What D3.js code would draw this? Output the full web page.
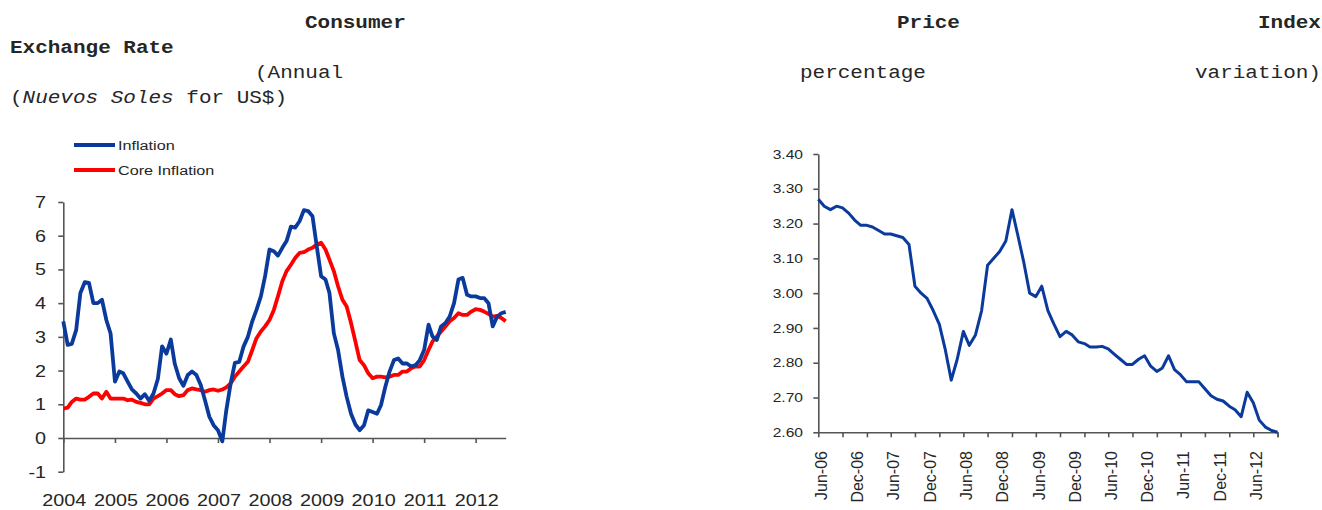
<!DOCTYPE html>
<html>
<head>
<meta charset="utf-8">
<script src="https://cdn.jsdelivr.net/npm/d3@7/dist/d3.min.js"></script>
<style>
  html, body { margin: 0; padding: 0; background: #fff; }
  svg { display: block; }
</style>
</head>
<body>
<svg id="chart" width="1322" height="510"></svg>
<script>
// ---------- DATA ----------
// Left panel: monthly annual % change, Jan-2004 .. Aug-2012
const inflationStart = [2004, 0];
const inflation = [
  3.46, 2.76, 2.79, 3.20, 4.30, 4.62, 4.60, 4.00, 4.00, 4.10, 3.50, 3.10,
  1.67, 1.97, 1.92, 1.67, 1.44, 1.32, 1.17, 1.30, 1.10, 1.32, 1.75, 2.72,
  2.50, 2.92, 2.20, 1.77, 1.55, 1.87, 1.97, 1.87, 1.57, 1.12, 0.63, 0.38,
  0.23, -0.10, 0.82, 1.62, 2.23, 2.26, 2.71, 3.00, 3.46, 3.80, 4.20, 4.80,
  5.59, 5.54, 5.41, 5.64, 5.84, 6.27, 6.24, 6.43, 6.76, 6.73, 6.58, 5.69,
  4.80, 4.70, 4.30, 3.11, 2.61, 1.82, 1.22, 0.72, 0.40, 0.23, 0.38, 0.82,
  0.77, 0.72, 0.97, 1.52, 1.97, 2.31, 2.36, 2.21, 2.21, 2.12, 2.16, 2.31,
  2.61, 3.36, 3.01, 2.91, 3.31, 3.41, 3.60, 4.00, 4.70, 4.75, 4.25, 4.20,
  4.20, 4.15, 4.15, 4.00, 3.31, 3.60, 3.70, 3.74
];
const coreInflation = [
  0.87, 0.90, 1.07, 1.17, 1.14, 1.14, 1.22, 1.32, 1.32, 1.17, 1.37, 1.17,
  1.17, 1.17, 1.17, 1.12, 1.14, 1.07, 1.04, 1.00, 1.00, 1.17, 1.24, 1.32,
  1.42, 1.42, 1.30, 1.24, 1.27, 1.42, 1.47, 1.44, 1.42, 1.37, 1.42, 1.44,
  1.40, 1.44, 1.50, 1.62, 1.82, 1.97, 2.12, 2.26, 2.61, 2.96, 3.16, 3.31,
  3.50, 3.80, 4.20, 4.65, 4.95, 5.14, 5.34, 5.49, 5.51, 5.59, 5.64, 5.74,
  5.79, 5.59, 5.29, 4.95, 4.50, 4.10, 3.90, 3.41, 2.86, 2.31, 2.16, 1.92,
  1.77, 1.82, 1.82, 1.80, 1.82, 1.87, 1.87, 1.97, 1.97, 2.07, 2.12, 2.12,
  2.31, 2.61, 2.86, 3.01, 3.16, 3.31, 3.46, 3.56, 3.70, 3.65, 3.65, 3.75,
  3.82, 3.80, 3.75, 3.68, 3.60, 3.62, 3.56, 3.46
];
const yearLabels = ["2004","2005","2006","2007","2008","2009","2010","2011","2012"];
const leftYTicks = [-1, 0, 1, 2, 3, 4, 5, 6, 7];
const seriesNames = ["Inflation", "Core Inflation"];

// Right panel: exchange rate (Nuevos Soles per US$), monthly Jun-2006 .. Oct-2012
const rateStart = [2006, 5];
const exchangeRate = [
  3.270, 3.250, 3.240, 3.250, 3.245, 3.230, 3.210,
  3.195, 3.195, 3.190, 3.180, 3.170, 3.170, 3.165, 3.160, 3.140, 3.020, 3.000, 2.985,
  2.950, 2.910, 2.840, 2.750, 2.810, 2.890, 2.850, 2.880, 2.950, 3.080, 3.100, 3.120,
  3.150, 3.240, 3.170, 3.090, 3.000, 2.990, 3.020, 2.950, 2.910, 2.875, 2.890, 2.880,
  2.860, 2.855, 2.845, 2.845, 2.847, 2.840, 2.825, 2.810, 2.795, 2.795, 2.810, 2.820,
  2.790, 2.775, 2.785, 2.820, 2.780, 2.765, 2.745, 2.745, 2.745, 2.725, 2.705, 2.695,
  2.690, 2.675, 2.665, 2.645, 2.715, 2.685, 2.635, 2.615, 2.605, 2.600
];
const rateYTicks = [2.60, 2.70, 2.80, 2.90, 3.00, 3.10, 3.20, 3.30, 3.40];
const monthNames = ["Jan","Feb","Mar","Apr","May","Jun","Jul","Aug","Sep","Oct","Nov","Dec"];

// Title words (laid out as in the source page)
const titleTop = ["Consumer", "Price", "Index"];
const titleLeft1 = "Exchange Rate";
const titleMid = ["(Annual", "percentage", "variation)"];

// ---------- HELPERS ----------
const svg = d3.select("#chart");
const BLUE = "#0b3a9d", RED = "#ff0000", AXIS = "#555555", TXT = "#262626";
const SX = 1.2; // horizontal stretch of the source picture's text

function stretchedText(g, x, y, str, opts) {
  const t = g.append("text")
    .attr("transform", `translate(${x},${y}) scale(${SX},1)`)
    .attr("fill", opts.fill || TXT)
    .style("font-family", opts.family)
    .style("font-size", opts.size + "px")
    .style("font-weight", opts.weight || "normal")
    .attr("text-anchor", opts.anchor || "start");
  if (opts.dy) t.attr("dy", opts.dy);
  if (str !== null) t.text(str);
  return t;
}
const monthDate = (start, i) => new Date(start[0], start[1] + i, 1);

// ---------- TITLES ----------
const mono = "'Liberation Mono','Courier New',monospace";
const titles = svg.append("g");
stretchedText(titles, 305, 28, titleTop[0], {family: mono, size: 17.5, weight: "bold"});
stretchedText(titles, 897, 28, titleTop[1], {family: mono, size: 17.5, weight: "bold"});
stretchedText(titles, 1258, 28, titleTop[2], {family: mono, size: 17.5, weight: "bold"});
stretchedText(titles, 10, 53, titleLeft1, {family: mono, size: 17.5, weight: "bold"});
stretchedText(titles, 255, 78, titleMid[0], {family: mono, size: 17.5});
stretchedText(titles, 800, 78, titleMid[1], {family: mono, size: 17.5});
stretchedText(titles, 1195, 78, titleMid[2], {family: mono, size: 17.5});
const sub = stretchedText(titles, 10, 103, null, {family: mono, size: 17.5});
sub.append("tspan").text("(");
sub.append("tspan").style("font-style", "italic").text("Nuevos Soles");
sub.append("tspan").text(" for US$)");

// ---------- LEFT PANEL ----------
const sans = "'Liberation Sans', Arial, sans-serif";
const infDates = inflation.map((_, i) => monthDate(inflationStart, i));
const x0 = d3.scaleTime()
  .domain([infDates[0], infDates[infDates.length - 1]])
  .range([63.3, 505.7]);
const y0 = d3.scaleLinear().domain([-1, 7]).range([471.7, 202]);

const left = svg.append("g");
const yearDates = yearLabels.map(s => new Date(+s, 0, 1));

const styleAxis = g => {
  g.selectAll("path, line").attr("stroke", AXIS).attr("stroke-width", 1.6);
  g.selectAll("text").remove();
};
left.append("g")
  .attr("transform", `translate(${x0.range()[0]},0)`)
  .call(d3.axisLeft(y0).tickValues(leftYTicks).tickSize(5).tickSizeOuter(0).tickFormat(""))
  .call(styleAxis);
left.append("g")
  .attr("transform", `translate(0,${y0(0)})`)
  .call(d3.axisBottom(x0).tickValues(yearDates).tickSize(5).tickSizeOuter(0).tickFormat(""))
  .call(styleAxis);

leftYTicks.forEach(v => stretchedText(left, 46, y0(v), String(v),
  {family: sans, size: 16.5, anchor: "end", dy: "0.36em"}));
yearDates.forEach((d, i) => stretchedText(left, x0(d) + 1, 506, yearLabels[i],
  {family: sans, size: 16.5, anchor: "middle"}));

const line0 = d3.line().x((d, i) => x0(infDates[i])).y(d => y0(d));
left.append("path").datum(coreInflation)
  .attr("d", line0).attr("fill", "none").attr("stroke", RED)
  .attr("stroke-width", 3.8).attr("stroke-linejoin", "round");
left.append("path").datum(inflation)
  .attr("d", line0).attr("fill", "none").attr("stroke", BLUE)
  .attr("stroke-width", 3.8).attr("stroke-linejoin", "round");

// legend
const legend = svg.append("g");
[[BLUE, 145], [RED, 170]].forEach(([c, y], i) => {
  legend.append("line").attr("x1", 74).attr("x2", 115).attr("y1", y).attr("y2", y)
    .attr("stroke", c).attr("stroke-width", 3.8);
  stretchedText(legend, 118, y, seriesNames[i], {family: sans, size: 13.5, dy: "0.36em"});
});

// ---------- RIGHT PANEL ----------
const rateDates = exchangeRate.map((_, i) => monthDate(rateStart, i));
const x1 = d3.scaleTime()
  .domain([rateDates[0], rateDates[rateDates.length - 1]])
  .range([818.3, 1277.5]);
const y1 = d3.scaleLinear().domain([2.6, 3.4]).range([432.3, 154]);

const right = svg.append("g");
const tickDates = rateDates.filter((d, i) => i % 4 === 0).concat([rateDates[rateDates.length - 1]]);
const labelDates = rateDates.filter((d, i) => i % 6 === 0);

right.append("g")
  .attr("transform", `translate(${x1.range()[0]},0)`)
  .call(d3.axisLeft(y1).tickValues(rateYTicks).tickSize(5).tickSizeOuter(0).tickFormat(""))
  .call(styleAxis);
right.append("g")
  .attr("transform", `translate(0,${y1.range()[0]})`)
  .call(d3.axisBottom(x1).tickValues(tickDates).tickSize(5).tickSizeOuter(0).tickFormat(""))
  .call(styleAxis);

rateYTicks.forEach(v => stretchedText(right, 803, y1(v), d3.format(".2f")(v),
  {family: sans, size: 13, anchor: "end", dy: "0.36em"}));
labelDates.forEach(d => {
  right.append("text")
    .attr("transform", `translate(${x1(d) + 3},451) rotate(-90)`)
    .attr("text-anchor", "end").attr("dy", "0.36em")
    .attr("fill", TXT)
    .style("font-family", sans).style("font-size", "16px")
    .text(monthNames[d.getMonth()] + "-" + String(d.getFullYear()).slice(2));
});

right.append("path").datum(exchangeRate)
  .attr("d", d3.line().x((d, i) => x1(rateDates[i])).y(d => y1(d)))
  .attr("fill", "none").attr("stroke", BLUE)
  .attr("stroke-width", 3).attr("stroke-linejoin", "round");
</script>
</body>
</html>
